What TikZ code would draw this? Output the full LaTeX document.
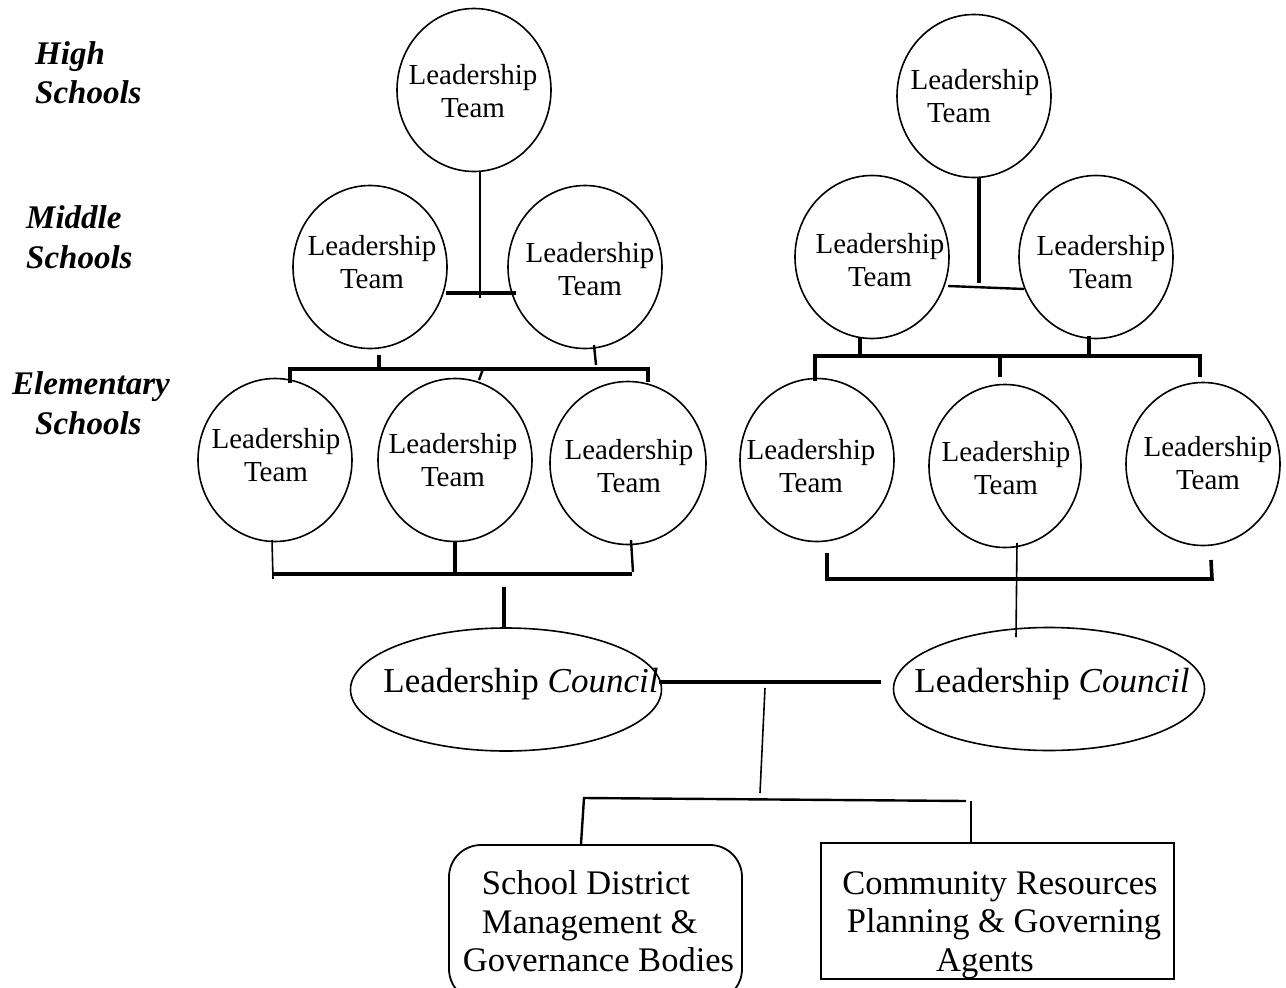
\documentclass[tikz,border=0pt]{standalone}
\usepackage{fontspec}
\setmainfont{Liberation Serif}
\usetikzlibrary{shapes.geometric}
\begin{document}
\begin{tikzpicture}[x=1pt,y=-1pt,
  oval/.style={ellipse, draw, line width=1.6pt, inner sep=0pt},
  team/.style={oval, minimum width=154pt, minimum height=163pt},
  council/.style={oval, minimum width=311pt, minimum height=123pt},
  tt/.style={align=center, inner sep=0pt, font=\fontsize{29}{33}\selectfont},
  ct/.style={inner sep=0pt, font=\fontsize{35}{40}\selectfont},
  bt/.style={inner sep=0pt, font=\fontsize{34.5}{38.5}\selectfont},
  side/.style={align=left, anchor=west, inner sep=0pt, font=\fontsize{33}{39.5}\selectfont\bfseries\itshape},
  thinl/.style={line width=1.6pt},
  medl/.style={line width=2.4pt},
  thickl/.style={line width=3.6pt},
  boxl/.style={draw, line width=1.8pt, inner sep=0pt},
]
\fill[white] (0,0) rectangle (1286,988);
\useasboundingbox (0,0) rectangle (1286,988);

% side labels
\node[side] (lhigh) at (35,72.5) {High\\Schools};
\node[side] (lmid) at (26,237) {Middle\\Schools};
\node[side] (lelem) at (12,403) {Elementary\\\hspace*{23pt}Schools};

% ellipses
\node[team] (hs1) at (474,90) {};
\node[team] (ms1l) at (370,267) {};
\node[team] (ms1r) at (585,267) {};
\node[team] (e1) at (275,460) {};
\node[team] (e2) at (455,460) {};
\node[team, minimum width=156pt] (e3) at (628,463) {};
\node[team] (hs2) at (974,96) {};
\node[team] (ms2l) at (872,257) {};
\node[team] (ms2r) at (1096,257) {};
\node[team] (e4) at (817,460) {};
\node[team, minimum width=152pt] (e5) at (1005,466) {};
\node[team] (e6) at (1203,464) {};
\node[council] (c1) at (506,689.5) {};
\node[council] (c2) at (1049,689) {};

% texts in ellipses
\node[tt] (hs1t) at (473,91.5) {Leadership\\Team};
\node[tt] (hs2t) at (975,96) {Leadership\\\hspace*{-32pt}Team};
\node[tt] (ms1lt) at (372,262) {Leadership\\Team};
\node[tt] (ms1rt) at (590,269) {Leadership\\Team};
\node[tt] (ms2lt) at (880,260) {Leadership\\Team};
\node[tt] (ms2rt) at (1101,262) {Leadership\\Team};
\node[tt] (e1t) at (276,455) {Leadership\\Team};
\node[tt] (e2t) at (453,460) {Leadership\\Team};
\node[tt] (e3t) at (629,466) {Leadership\\Team};
\node[tt] (e4t) at (811,466) {Leadership\\Team};
\node[tt] (e5t) at (1006,468) {Leadership\\Team};
\node[tt] (e6t) at (1208,463) {Leadership\\Team};
\node[ct] (c1t) at (521,684) {Leadership \textit{Council}};
\node[ct] (c2t) at (1052,684) {Leadership \textit{Council}};

% boxes
\node[boxl, rounded corners=32pt, minimum width=293pt, minimum height=156pt] (b1) at (595.5,923) {};
\node[boxl, minimum width=353pt, minimum height=136pt] (b2) at (997.5,911) {};
\node[bt, align=left] (b1t) at (598.5,921.5) {\hspace*{19pt}School District\\\hspace*{19pt}Management \&\\Governance Bodies};
\node[bt, align=center] (b2t) at (1000,925) {Community Resources\\\hspace*{8pt}Planning \& Governing\\\hspace*{-30pt}Agents};

% ---- left tree connectors
\coordinate (L1a) at (480,172); \coordinate (L1b) at (480,298);
\coordinate (L2a) at (446,293); \coordinate (L2b) at (516,293);
\coordinate (L3a) at (379,355); \coordinate (L3b) at (379,370);
\coordinate (L4a) at (594,345); \coordinate (L4b) at (596,365);
\coordinate (L5a) at (290,383); \coordinate (L5b) at (290,369);
\coordinate (L5c) at (648,369); \coordinate (L5d) at (648,382);
\coordinate (L6a) at (483,369); \coordinate (L6b) at (479,380);
\coordinate (L7a) at (272,540); \coordinate (L7b) at (273,579);
\coordinate (L8a) at (455,542); \coordinate (L8b) at (455,572);
\coordinate (L9a) at (631,540); \coordinate (L9b) at (633,572);
\coordinate (L10a) at (273,574); \coordinate (L10b) at (632,574);
\coordinate (L11a) at (504,587); \coordinate (L11b) at (504,628);
\draw[medl] (L1a) -- (L1b);
\draw[line width=4.2pt] (L2a) -- (L2b);
\draw[thickl] (L3a) -- (L3b);
\draw[medl] (L4a) -- (L4b);
\draw[thickl] (L5a) -- (L5b) -- (L5c) -- (L5d);
\draw[medl] (L6a) -- (L6b);
\draw[thinl] (L7a) -- (L7b);
\draw[thickl] (L8a) -- (L8b);
\draw[medl] (L9a) -- (L9b);
\draw[thickl] (L10a) -- (L10b);
\draw[thickl] (L11a) -- (L11b);

% ---- right tree connectors
\coordinate (R1a) at (979,178); \coordinate (R1b) at (979,283);
\coordinate (R2a) at (948,286); \coordinate (R2b) at (1024,289);
\coordinate (R3a) at (860,338); \coordinate (R3b) at (860,356);
\coordinate (R4a) at (1089,336); \coordinate (R4b) at (1089,356);
\coordinate (R5a) at (815,381); \coordinate (R5b) at (815,356);
\coordinate (R5c) at (1200,356); \coordinate (R5d) at (1200,377);
\coordinate (R6a) at (1000,356); \coordinate (R6b) at (1000,377);
\coordinate (R7a) at (827,553); \coordinate (R7b) at (827,579);
\coordinate (R7c) at (1212,579); \coordinate (R7d) at (1211,560);
\coordinate (R8a) at (1017,543); \coordinate (R8b) at (1016,637);
\draw[thickl] (R1a) -- (R1b);
\draw[medl] (R2a) -- (R2b);
\draw[thickl] (R3a) -- (R3b);
\draw[thickl] (R4a) -- (R4b);
\draw[thickl] (R5a) -- (R5b) -- (R5c) -- (R5d);
\draw[thickl] (R6a) -- (R6b);
\draw[thickl] (R7a) -- (R7b) -- (R7c) -- (R7d);
\draw[thinl] (R8a) -- (R8b);

% ---- middle connectors
\coordinate (M1a) at (659,682); \coordinate (M1b) at (881,682);
\coordinate (M2a) at (765,688); \coordinate (M2b) at (760,793);
\coordinate (M3a) at (584,798); \coordinate (M3b) at (966,801);
\coordinate (M4a) at (581,844);
\coordinate (M5a) at (971,801); \coordinate (M5b) at (971,842);
\draw[line width=4.2pt] (M1a) -- (M1b);
\draw[thinl] (M2a) -- (M2b);
\draw[medl] (M4a) -- (M3a) -- (M3b);
\draw[medl] (M5a) -- (M5b);
\end{tikzpicture}
\end{document}
